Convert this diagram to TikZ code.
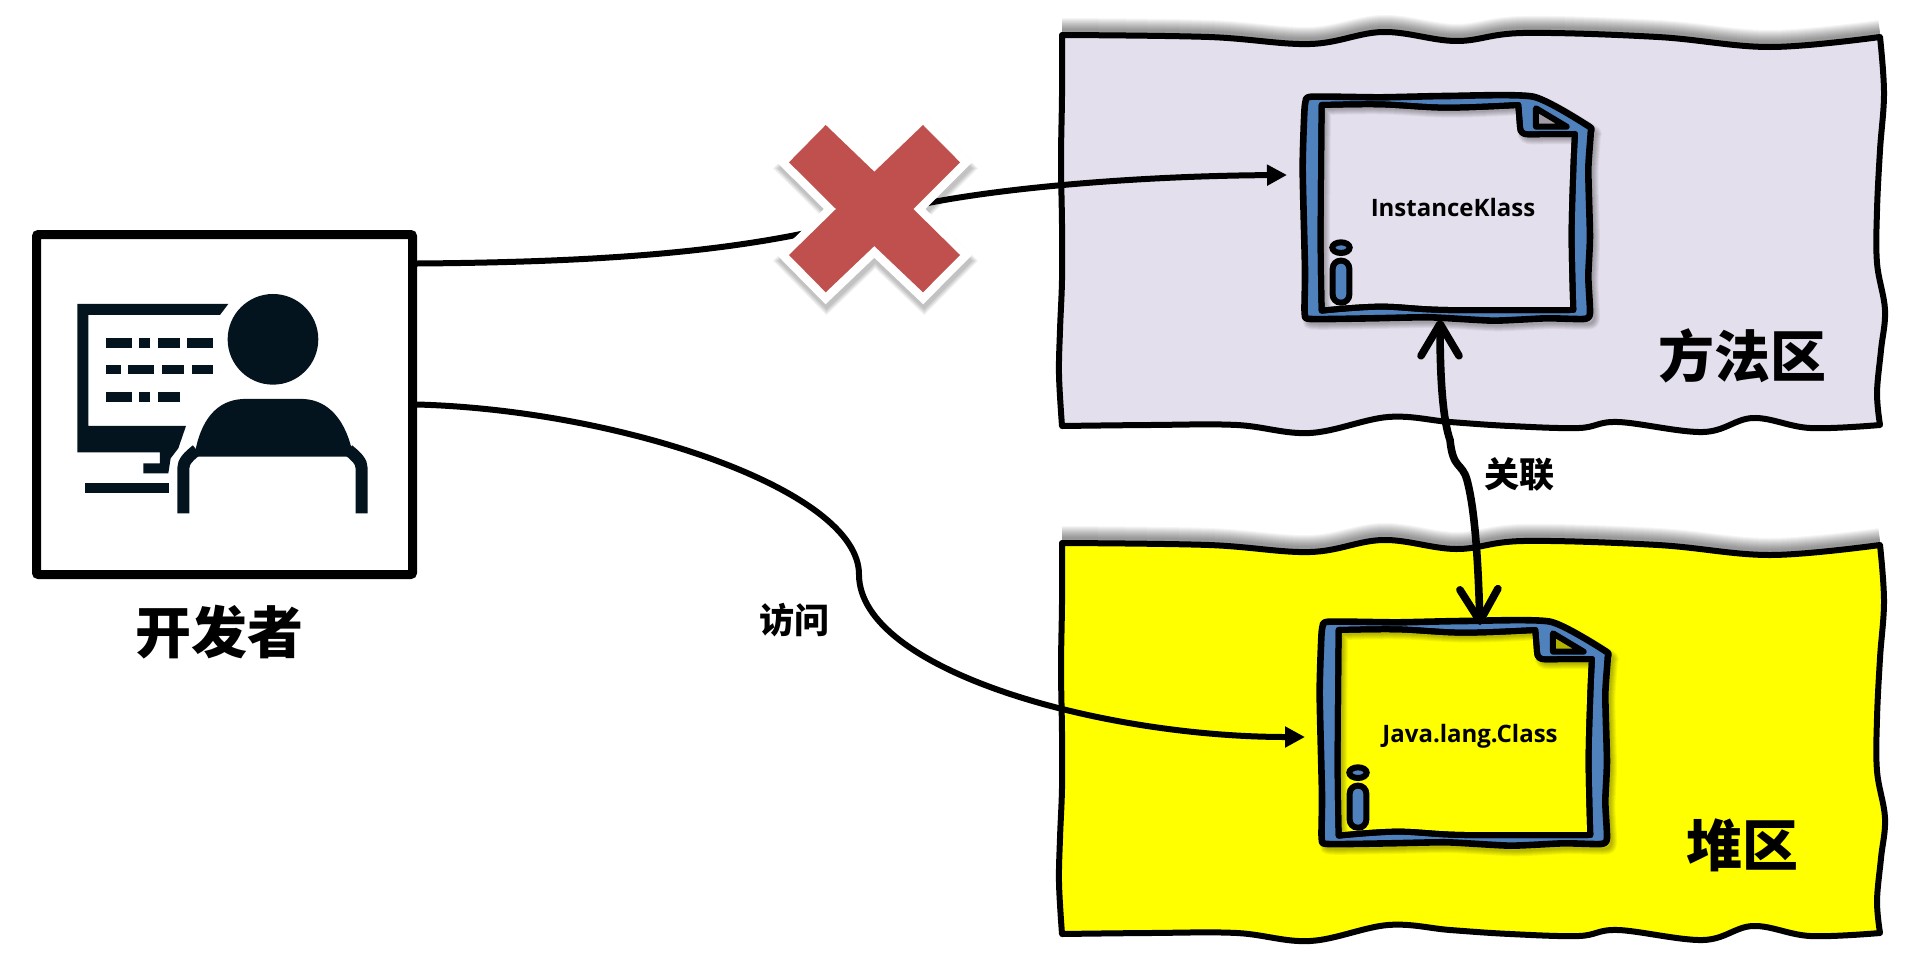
\documentclass[tikz,border=0pt]{standalone}
\usepackage{fontspec}
\usepackage{tikz}
\usetikzlibrary{arrows.meta}
\setmainfont{Noto Sans CJK SC}
\newfontfamily\latinfont{Open Sans}
\definecolor{regionpurple}{HTML}{E4DFEC}
\definecolor{regionyellow}{HTML}{FFFF00}
\definecolor{docblue}{HTML}{4F81BD}
\definecolor{crossred}{HTML}{C0504D}
\definecolor{icondark}{HTML}{04141F}
\tikzset{
  wavy/.style={smooth,tension=.6},
  softline/.style={black,opacity=.05},
  regionshade/.style={black,opacity=.04},
  conn/.style={line width=3pt,black,-{Triangle[length=10pt,width=10pt]}},
  biglabel/.style={font=\fontsize{28}{28}\selectfont\bfseries,inner sep=0pt},
  smalllabel/.style={font=\fontsize{17.5}{17.5}\selectfont\bfseries,inner sep=0pt},
  doclabel/.style={font=\latinfont\fontsize{12}{12}\selectfont\bfseries,inner sep=0pt},
}
% region outline
\newcommand{\regiontop}{plot[wavy] coordinates {(1062,35) (1209,37) (1310,44) (1383,32) (1456,41) (1523,33) (1658,37) (1770,47) (1880,37)}}
\newcommand{\regionpath}{\regiontop
  -- plot[wavy] coordinates {(1880,37) (1884,93) (1880,150) (1877,210) (1877,263) (1885,310) (1881,350) (1877,393) (1880,425)}
  -- plot[wavy] coordinates {(1880,425) (1810,428) (1753,418) (1703,432) (1618,422) (1579,428) (1510,426) (1450,422) (1388,417) (1310,433) (1237,425) (1150,425) (1062,426)}
  -- plot[wavy] coordinates {(1062,426) (1059,375) (1060,330) (1062,280) (1062,225) (1061,160) (1062,95) (1062,35)} -- cycle}
% document icon, in coordinates of a 3x crop
\newcommand{\docouter}{plot[smooth cycle,tension=.35] coordinates {(95,80) (300,82) (500,78) (760,80) (925,168) (932,190) (925,300) (930,500) (925,620) (930,730) (912,747) (800,745) (640,752) (450,742) (280,745) (92,747) (74,730) (75,600) (68,300) (72,150) (76,97)}}
\newcommand{\docrim}{plot[wavy] coordinates {(125,722) (122,500) (125,105)}
  -- plot[wavy] coordinates {(125,105) (300,103) (500,113) (715,105)}
  -- (720,170) .. controls (720,188) and (730,193) .. (745,193) -- (885,192)}
\newcommand{\docinner}{\docrim
  -- plot[wavy] coordinates {(885,192) (880,300) (875,500) (880,720)}
  -- plot[wavy] coordinates {(880,720) (500,720) (300,710) (125,722)} -- cycle}
\newcommand{\docicon}[2]{%
  \begin{scope}[shift={#1},scale=.3333]
    \foreach \w in {1,2,...,6}
      \draw[softline,line width=\w pt,shift={(12,14)}] \docouter;
    \draw[fill=docblue,line width=3.3pt,line join=round] \docouter;
    \draw[fill=#2,line width=3pt,line join=round] \docinner;
    \begin{scope}
      \clip \docinner;
      \foreach \w in {1,2,...,6}
        \draw[softline,line width=\w pt,shift={(10,12)}] \docrim;
    \end{scope}
    \draw[black,line width=3pt,line join=round] \docinner;
    \draw[fill=#2!70!black,line width=3pt,line join=round] (768,115) -- (768,170) -- (860,170) -- cycle;
    \draw[fill=docblue,line width=3pt] (183,533) ellipse (26 and 16);
    \draw[fill=docblue,line width=3pt,rounded corners=4pt] (158,572) rectangle (208,698);
  \end{scope}}
\newcommand{\crosspath}{(825.7,125) -- (874.3,171.7) -- (923,125) -- (960,162.3) -- (913.3,209) -- (960,255) -- (923,292.3) -- (874.3,246) -- (825.7,292.3) -- (789,255) -- (836,209) -- (789,162.3) -- cycle}
\begin{document}
\begin{tikzpicture}[x=.5pt,y=-.5pt]
  \useasboundingbox[fill=white] (0,0) rectangle (1921,964);
  % regions
  \foreach \regiony/\regioncol in {0/regionpurple,508/regionyellow}{
    \begin{scope}[yshift=-\regiony*.5pt]
      \foreach \w in {2,3,...,13}
        \draw[regionshade,line width=\w pt,yshift=2pt] \regiontop;
      \draw[fill=\regioncol,line width=3pt,line join=round] \regionpath;
    \end{scope}
  }
  \node[biglabel] (methodlabel) at (1742,356) {方法区};
  \node[biglabel] (heaplabel) at (1742,845) {堆区};
  % documents
  \docicon{(1280,70)}{regionpurple}
  \docicon{(1297,595)}{regionyellow}
  \node[doclabel] (klass) at (1453,207) {InstanceKlass};
  \node[doclabel] (javaclass) at (1470,736) {Java.lang.Class};
  % developer
  \node[draw,line width=4.5pt,rounded corners=1pt,minimum width=188pt,minimum height=170pt,inner sep=0pt] (dev) at (224.5,404.5) {};
  \node[biglabel] (devlabel) at (219,632) {开发者};
  \begin{scope}[shift={(0,200)},scale=.3333,icondark]
    \fill (232,312) -- (685,312) -- (660,345) -- (265,345) -- (265,678) -- (558,678) -- (535,745) -- (512,775) -- (505,820) -- (430,820) -- (430,790) -- (480,790) -- (480,757) -- (232,757) -- cycle;
    \foreach \rowy/\rowx in {415/{318/395,418/450,475/540,562/638},495/{318/362,385/462,485/552,575/638},577/{318/395,418/450,475/540}}
      \foreach \xa/\xb in \rowx
        \fill (\xa,\rowy) rectangle (\xb,\rowy+28);
    \fill (255,848) rectangle (508,880);
    \fill (819,418) circle (136);
    \fill (583,770) .. controls (600,660) and (650,600) .. (730,597) -- (910,597) .. controls (985,600) and (1040,660) .. (1060,770) -- cycle;
    \draw[line width=6pt] (550,940) -- (550,805) .. controls (550,785) and (565,770) .. (590,750);
    \draw[line width=6pt] (1085,940) -- (1085,805) .. controls (1085,785) and (1070,770) .. (1045,750);
  \end{scope}
  % connectors
  \coordinate (klassleft) at (1287,175);
  \coordinate (javaleft) at (1305,737);
  \coordinate (klassbottom) at (1440,320);
  \coordinate (javatop) at (1480,625);
  \draw[conn] ([yshift=70.5pt]dev.east) .. controls (620,262) and (760,250) .. (878,215) .. controls (960,190) and (1130,176) .. (klassleft);
  \draw[conn] (dev.east) .. controls (620,410) and (860,490) .. (859,575) .. controls (860,670) and (1100,737) .. (javaleft);
  \draw[line width=3.8pt,line cap=round,{Straight Barb[length=16pt,width=19pt,round]}-{Straight Barb[length=16pt,width=19pt,round]}] (klassbottom) .. controls (1440,380) and (1443,420) .. (1450,440) .. controls (1453,470) and (1462,462) .. (1467,480) .. controls (1475,510) and (1478,560) .. (javatop);
  \node[smalllabel] (linklabel) at (1519,474) {关联};
  \node[smalllabel] (visitlabel) at (794,620) {访问};
  % cross
  \foreach \w in {1,2,...,5}
    \draw[softline,line width=7+\w pt,yshift=-3pt,xshift=.5pt] \crosspath;
  \draw[white,fill=white,line width=8.5pt] \crosspath;
  \fill[crossred] \crosspath;
\end{tikzpicture}
\end{document}
